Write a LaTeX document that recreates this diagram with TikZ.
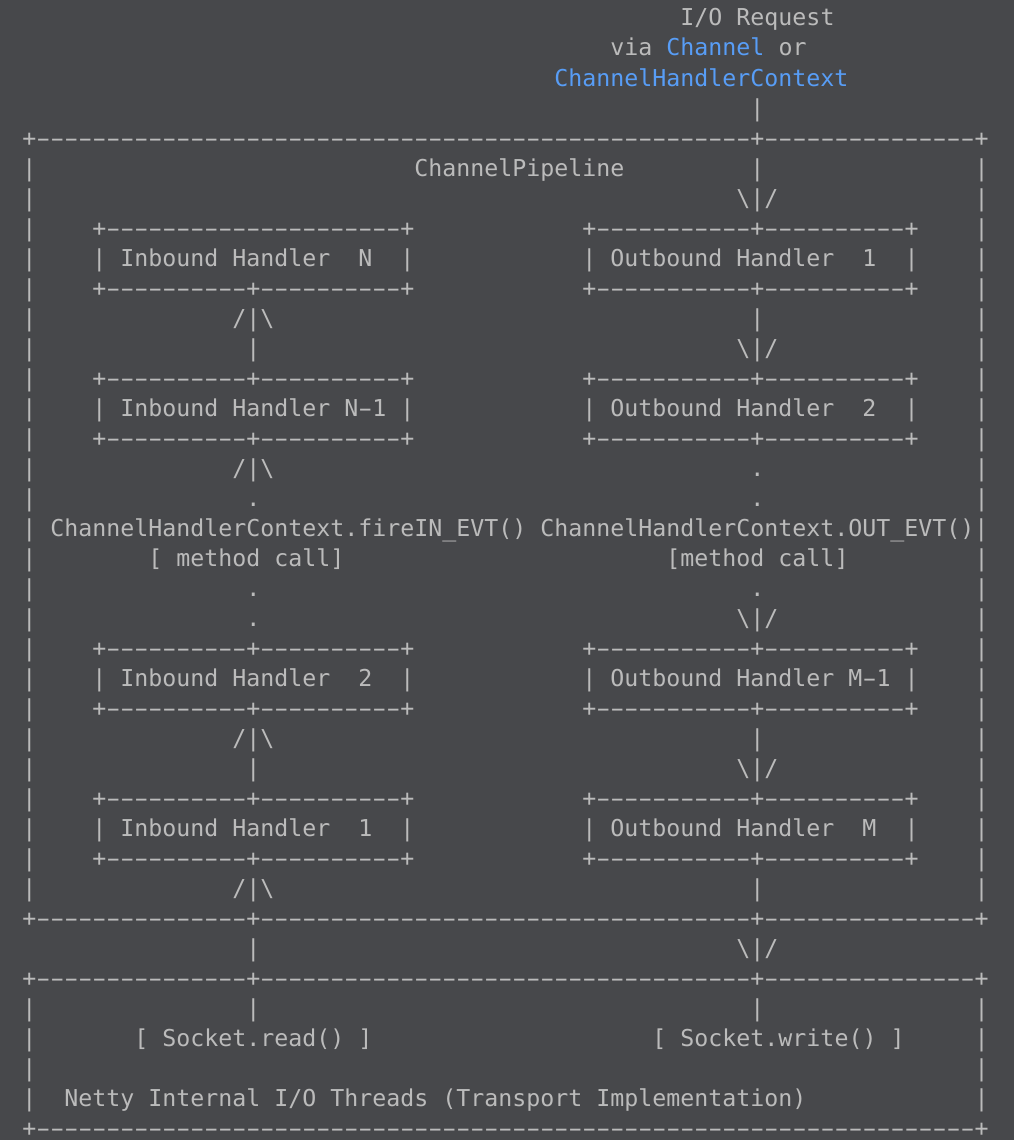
\documentclass[tikz,border=0pt]{standalone}
\usepackage{fontspec}
\usepackage{graphicx}
\setmonofont{DejaVu Sans Mono}
\definecolor{bgc}{HTML}{47484B}
\definecolor{fgc}{HTML}{BBBBBB}
\definecolor{lnk}{HTML}{589DF6}
\ExplSyntaxOn
\cs_new:Npn \myrep #1#2 {\prg_replicate:nn{#1}{#2}}
\ExplSyntaxOff
\newcommand\gp[1]{\hskip#1\fontcharwd\font`0\relax}
\newcommand\hy{\hbox to \fontcharwd\font`0{\hss\scalebox{1.75}[1]{-}\hss}}
\newcommand\bsl{\textbackslash}
\newcommand\boxtop{|\gp{4}+\myrep{21}{\hy}+\gp{12}+\myrep{11}{\hy}+\myrep{10}{\hy}+\gp{4}|}
\newcommand\boxmid{|\gp{4}+\myrep{10}{\hy}+\myrep{10}{\hy}+\gp{12}+\myrep{11}{\hy}+\myrep{10}{\hy}+\gp{4}|}
\newcommand\uparbar{|\gp{14}/|\bsl\gp{34}|\gp{15}|}
\newcommand\barudown{|\gp{15}|\gp{34}\bsl|/\gp{14}|}
\newcommand\splitrule{+\myrep{15}{\hy}+\myrep{35}{\hy}+\myrep{15}{\hy}+}
\tikzset{ln/.style={anchor=base west, inner sep=0pt, outer sep=0pt, text=fgc,
  font=\ttfamily\fontsize{23.26pt}{30pt}\selectfont}}
\begin{document}
\begin{tikzpicture}[x=1pt,y=1pt]
\fill[bgc] (0,0) rectangle (1014,-1140);
\useasboundingbox (0,0) rectangle (1014,-1140);
\node[ln] (r0) at (22.3,-26) {\gp{47}I/O Request};
\node[ln] (r1) at (22.3,-56) {\gp{42}via {\color{lnk}Channel} or};
\node[ln] (r2) at (22.3,-86) {\gp{38}{\color{lnk}ChannelHandlerContext}};
\node[ln] (r3) at (22.3,-116) {\gp{52}|};
\node[ln] (r4) at (22.3,-146) {+\myrep{51}{\hy}+\myrep{15}{\hy}+};
\node[ln] (r5) at (22.3,-176) {|\gp{27}ChannelPipeline\gp{9}|\gp{15}|};
\node[ln] (r6) at (22.3,-206) {|\gp{50}\bsl|/\gp{14}|};
\node[ln] (r7) at (22.3,-236) {\boxtop};
\node[ln] (r8) at (22.3,-266) {|\gp{4}| Inbound Handler\gp{2}N\gp{2}|\gp{12}| Outbound Handler\gp{2}1\gp{2}|\gp{4}|};
\node[ln] (r9) at (22.3,-296) {\boxmid};
\node[ln] (r10) at (22.3,-326) {\uparbar};
\node[ln] (r11) at (22.3,-356) {\barudown};
\node[ln] (r12) at (22.3,-386) {\boxmid};
\node[ln] (r13) at (22.3,-416) {|\gp{4}| Inbound Handler N\hy1 |\gp{12}| Outbound Handler\gp{2}2\gp{2}|\gp{4}|};
\node[ln] (r14) at (22.3,-446) {\boxmid};
\node[ln] (r15) at (22.3,-476) {|\gp{14}/|\bsl\gp{34}.\gp{15}|};
\node[ln] (r16) at (22.3,-506) {|\gp{15}.\gp{35}.\gp{15}|};
\node[ln] (r17) at (22.3,-536) {| ChannelHandlerContext.fireIN\_EVT() ChannelHandlerContext.OUT\_EVT()|};
\node[ln] (r18) at (22.3,-566) {|\gp{8}[ method call]\gp{23}[method call]\gp{9}|};
\node[ln] (r19) at (22.3,-596) {|\gp{15}.\gp{35}.\gp{15}|};
\node[ln] (r20) at (22.3,-626) {|\gp{15}.\gp{34}\bsl|/\gp{14}|};
\node[ln] (r21) at (22.3,-656) {\boxmid};
\node[ln] (r22) at (22.3,-686) {|\gp{4}| Inbound Handler\gp{2}2\gp{2}|\gp{12}| Outbound Handler M\hy1 |\gp{4}|};
\node[ln] (r23) at (22.3,-716) {\boxmid};
\node[ln] (r24) at (22.3,-746) {\uparbar};
\node[ln] (r25) at (22.3,-776) {\barudown};
\node[ln] (r26) at (22.3,-806) {\boxmid};
\node[ln] (r27) at (22.3,-836) {|\gp{4}| Inbound Handler\gp{2}1\gp{2}|\gp{12}| Outbound Handler\gp{2}M\gp{2}|\gp{4}|};
\node[ln] (r28) at (22.3,-866) {\boxmid};
\node[ln] (r29) at (22.3,-896) {\uparbar};
\node[ln] (r30) at (22.3,-926) {\splitrule};
\node[ln] (r31) at (22.3,-956) {\gp{16}|\gp{34}\bsl|/};
\node[ln] (r32) at (22.3,-986) {\splitrule};
\node[ln] (r33) at (22.3,-1016) {|\gp{15}|\gp{35}|\gp{15}|};
\node[ln] (r34) at (22.3,-1046) {|\gp{7}[ Socket.read() ]\gp{20}[ Socket.write() ]\gp{5}|};
\node[ln] (r35) at (22.3,-1076) {|\gp{67}|};
\node[ln] (r36) at (22.3,-1106) {|\gp{2}Netty Internal I/O Threads (Transport Implementation)\gp{12}|};
\node[ln] (r37) at (22.3,-1136) {+\myrep{67}{\hy}+};
\end{tikzpicture}
\end{document}
